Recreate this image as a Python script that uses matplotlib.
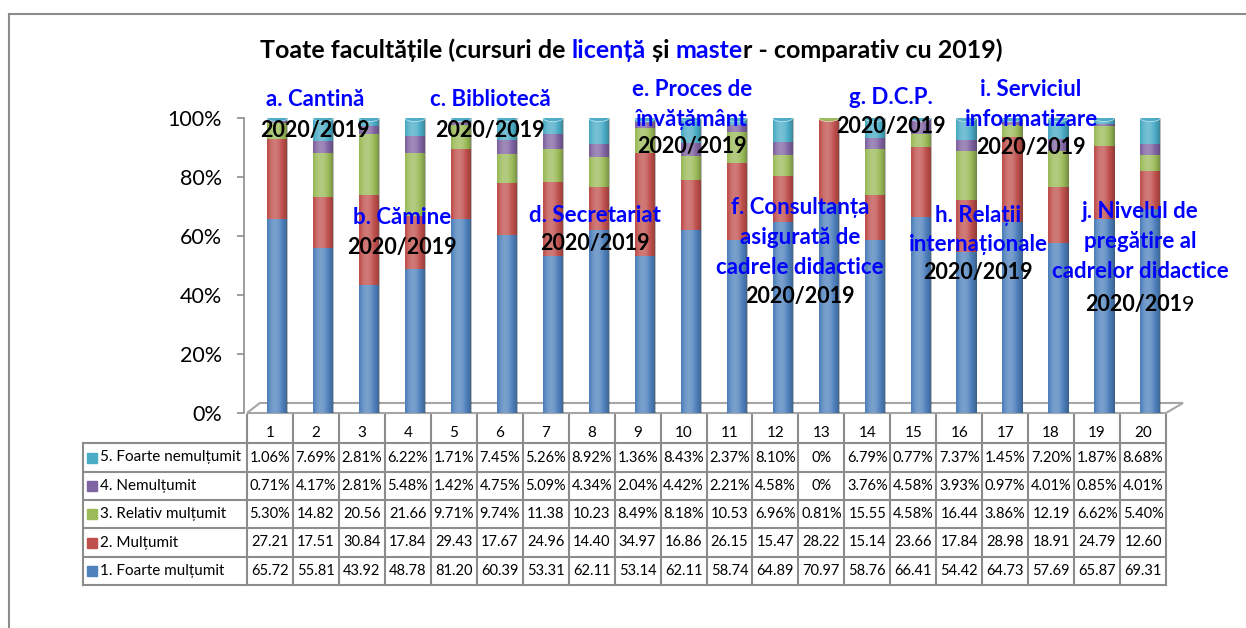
import numpy as np
import matplotlib.pyplot as plt
from matplotlib.patches import Polygon, Ellipse
from matplotlib.lines import Line2D

plt.rcParams['font.family'] = ['Lato', 'DejaVu Sans']

W, H = 1246, 628

# data (percent as printed in the table)
categories = [str(i) for i in range(1, 21)]
series_names = ['1. Foarte mulțumit', '2. Mulțumit', '3. Relativ mulțumit',
                '4. Nemulțumit', '5. Foarte nemulțumit']
foarte_multumit = [65.72, 55.81, 43.92, 48.78, 81.20, 60.39, 53.31, 62.11, 53.14, 62.11,
                   58.74, 64.89, 70.97, 58.76, 66.41, 54.42, 64.73, 57.69, 65.87, 69.31]
multumit = [27.21, 17.51, 30.84, 17.84, 29.43, 17.67, 24.96, 14.40, 34.97, 16.86,
            26.15, 15.47, 28.22, 15.14, 23.66, 17.84, 28.98, 18.91, 24.79, 12.60]
relativ_multumit = [5.30, 14.82, 20.56, 21.66, 9.71, 9.74, 11.38, 10.23, 8.49, 8.18,
                    10.53, 6.96, 0.81, 15.55, 4.58, 16.44, 3.86, 12.19, 6.62, 5.40]
nemultumit = [0.71, 4.17, 2.81, 5.48, 1.42, 4.75, 5.09, 4.34, 2.04, 4.42,
              2.21, 4.58, 0.0, 3.76, 4.58, 3.93, 0.97, 4.01, 0.85, 4.01]
foarte_nemultumit = [1.06, 7.69, 2.81, 6.22, 1.71, 7.45, 5.26, 8.92, 1.36, 8.43,
                     2.37, 8.10, 0.0, 6.79, 0.77, 7.37, 1.45, 7.20, 1.87, 8.68]
colors = ['#4F81BD', '#C0504D', '#9BBB59', '#8064A2', '#4BACC6']

title_runs = [('Toate facultățile (cursuri de ', 'black'), ('licență', '#0000ff'),
              (' și ', 'black'), ('maste', '#0000ff'), ('r - comparativ cu 2019)', 'black')]

# annotation blocks: blue lines, centre x, first line y, year y (pixels)
notes = [
    (['a. Cantină'], 315, 100, 130),
    (['b. Cămine'], 402, 218, 247),
    (['c. Bibliotecă'], 490, 100, 130),
    (['d. Secretariat'], 595, 215, 243),
    (['e. Proces de', 'învățământ'], 692, 90, 147),
    (['f. Consultanța', 'asigurată de', 'cadrele didactice'], 800, 208, 297),
    (['g. D.C.P.'], 891, 97, 126),
    (['h. Relații', 'internaționale'], 978, 215, 273),
    (['i. Serviciul', 'informatizare'], 1031, 90, 148),
    (['j. Nivelul de', 'pregătire al', 'cadrelor didactice'], 1140, 212, 305),
]
year_label = '2020/2019'

values = np.array([foarte_multumit, multumit, relativ_multumit, nemultumit, foarte_nemultumit])
shares = values / values.sum(axis=0) * 100


def fx(x):
    return x / W


def fy(y):
    return 1 - y / H


def fmt(v):
    if v == 0:
        return '0%'
    if v < 10:
        return f'{v:.2f}%'
    return f'{v:.2f}'


fig = plt.figure(figsize=(W / 100, H / 100), dpi=100)
fig.add_artist(Line2D([fx(9), fx(9)], [fy(14), 0], color='#8c8c8c', lw=1.5))
fig.add_artist(Line2D([fx(9), 1], [fy(14), fy(14)], color='#8c8c8c', lw=1.5))

# bars
ax = fig.add_axes([fx(247), fy(413), (1166 - 247) / W, (413 - 118) / H])
x = np.arange(1, 21) + 0.16
bw = 0.44
bottom = np.zeros(20)
for k in range(5):
    ax.bar(x, shares[k], bw, bottom=bottom, color=colors[k], linewidth=0, zorder=3)
    bottom += shares[k]

# cylinder shading
t = np.linspace(0, 1, 64)
b = 1 - ((t - 0.38) / 0.62) ** 2 - 0.7
grad = np.zeros((1, 64, 4))
grad[0, :, :3] = np.where(b[:, None] > 0, 1.0, 0.0)
grad[0, :, 3] = np.abs(b) * np.where(b > 0, 0.8, 0.4)
for i, xi in enumerate(x):
    ax.imshow(grad, extent=(xi - bw / 2, xi + bw / 2, 0, 100), aspect='auto',
              interpolation='bilinear', zorder=4)
    top_k = max(k for k in range(5) if values[k, i] > 0)
    ax.add_patch(Ellipse((xi, 100), bw, 2.4, facecolor=colors[top_k], edgecolor='#ffffff',
                         lw=0.4, alpha=0.85, zorder=5))
    ax.add_patch(Ellipse((xi, 0), bw, 2.0, facecolor=colors[0], lw=0, zorder=2))

# floor
ax.add_patch(Polygon([(0.5, 0), (20.5, 0), (20.87, 3.4), (0.78, 3.4)], closed=True,
                     facecolor='none', edgecolor='#a6a6a6', lw=1.5, clip_on=False, zorder=1))

ax.set_xlim(0.5, 20.5)
ax.set_ylim(0, 100)
for s in ['top', 'right', 'bottom']:
    ax.spines[s].set_visible(False)
ax.spines['left'].set_color('#8c8c8c')
ax.spines['left'].set_linewidth(1.2)
ax.spines['left'].set_position(('outward', 2))
ax.set_xticks([])
ax.set_yticks(range(0, 101, 20))
ax.set_yticklabels([f'{v}%' for v in range(0, 101, 20)])
ax.tick_params(axis='y', length=5, width=1.2, color='#8c8c8c', labelsize=15.5, pad=11)
ax.patch.set_visible(False)

# data table
lab_w = 164 / 45.95
tab = fig.add_axes([fx(83), fy(585), (1166 - 83) / W, (585 - 415) / H])
tab.set_xlim(0.5 - lab_w, 20.5)
tab.set_ylim(6, 0)
tab.axis('off')
lc = '#8c8c8c'
for xv in np.arange(0.5, 21.5, 1):
    tab.plot([xv, xv], [0, 6], color=lc, lw=1.5, clip_on=False)
tab.plot([0.5 - lab_w] * 2, [1, 6], color=lc, lw=1.5, clip_on=False)
for yv in range(1, 7):
    tab.plot([0.5 - lab_w, 20.5], [yv, yv], color=lc, lw=1.5, clip_on=False)
for i, c in enumerate(categories):
    tab.text(i + 1, 0.62, c, ha='center', va='center', fontsize=11)
for r in range(5):
    k = 4 - r
    tab.plot(0.5 - lab_w + 0.2, r + 1.5, marker='s', ms=7, color=colors[k], clip_on=False)
    tab.text(0.5 - lab_w + 0.37, r + 1.5, series_names[k], ha='left', va='center', fontsize=11)
    for i in range(20):
        tab.text(i + 1, r + 1.5, fmt(values[k, i]), ha='center', va='center', fontsize=10.5)

renderer = fig.canvas.get_renderer()


def runs(pieces, cx, cy, size, bold):
    texts = [fig.text(0, fy(cy), s, color=c, fontsize=size,
                      fontweight='bold' if bd else 'normal', va='center', ha='left')
             for (s, c), bd in zip(pieces, bold)]
    widths = [tx.get_window_extent(renderer).width for tx in texts]
    xp = cx - sum(widths) / 2
    for tx, wd in zip(texts, widths):
        tx.set_x(fx(xp))
        xp += wd


runs(title_runs, 631, 50, 18, [True] * 5)

for lines, cx, y0, yy in notes:
    for j, line in enumerate(lines):
        fig.text(fx(cx), fy(y0 + 29.5 * j), line, color='#0000ff', fontsize=16,
                 fontweight='bold', ha='center', va='center', zorder=10)
    if lines[0].startswith('j.'):
        runs([(year_label[:-1], 'black'), (year_label[-1], 'black')], cx, yy, 15.5, [True, False])
    else:
        fig.text(fx(cx), fy(yy), year_label, color='black', fontsize=15.5,
                 fontweight='bold', ha='center', va='center', zorder=10)

fig.savefig('out.png', dpi=100)
